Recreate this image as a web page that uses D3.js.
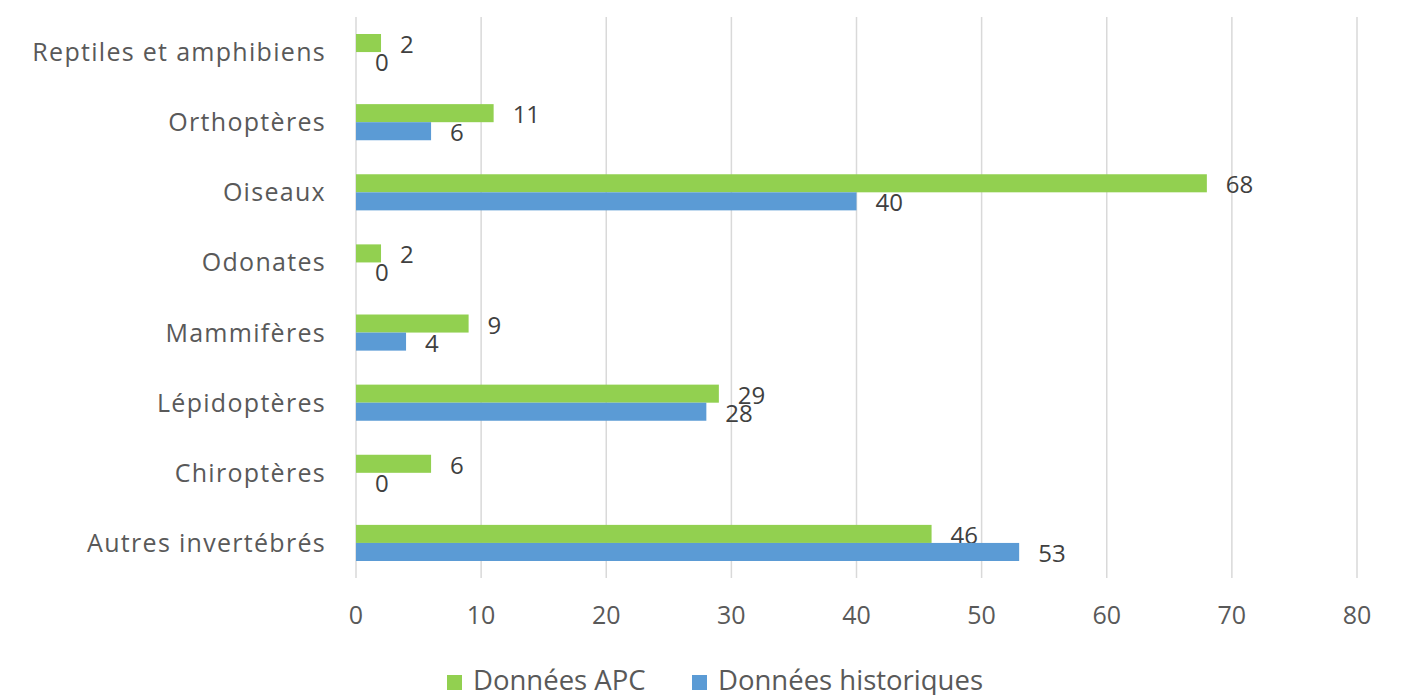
<!DOCTYPE html>
<html>
<head>
<meta charset="utf-8">
<script src="https://cdn.jsdelivr.net/npm/d3@7"></script>
<style>
  body { margin: 0; background: #fff; }
  text { font-family: "Open Sans", sans-serif; fill: #595959; }
</style>
</head>
<body>
<svg id="chart" width="1406" height="695"></svg>
<script>
var categories = ["Reptiles et amphibiens", "Orthoptères", "Oiseaux", "Odonates",
                  "Mammifères", "Lépidoptères", "Chiroptères", "Autres invertébrés"]
var apc = [2, 11, 68, 2, 9, 29, 6, 46]
var historiques = [0, 6, 40, 0, 4, 28, 0, 53]
var xTicks = [0, 10, 20, 30, 40, 50, 60, 70, 80]
var seriesNames = ["Données APC", "Données historiques"]
var colors = ["#92d050", "#5b9bd5"]

var svg = d3.select("#chart")
var plotLeft = 356, plotRight = 1357, plotTop = 17, plotBottom = 578

var x = d3.scaleLinear().domain([0, 80]).range([plotLeft, plotRight])
var y = d3.scaleBand().domain(categories).range([plotTop, plotBottom]).paddingInner(0.485).paddingOuter(0.2425)
var sub = d3.scaleBand().domain([0, 1]).range([0, y.bandwidth()])

// gridlines
svg.append("g").selectAll("line").data(xTicks).enter().append("line")
   .attr("x1", function (d) { return x(d) }).attr("x2", function (d) { return x(d) })
   .attr("y1", plotTop).attr("y2", plotBottom)
   .attr("stroke", "#d9d9d9").attr("stroke-width", 1.5)

// tick labels
svg.append("g").selectAll("text").data(xTicks).enter().append("text")
   .attr("x", function (d) { return x(d) }).attr("y", 624)
   .attr("text-anchor", "middle").style("font-size", "25px")
   .text(function (d) { return d })

// category labels
svg.append("g").selectAll("text").data(categories).enter().append("text")
   .attr("x", 326).attr("y", function (d) { return y(d) + y.bandwidth() / 2 + 9 })
   .attr("text-anchor", "end").style("font-size", "25px").style("letter-spacing", "1.3px")
   .text(function (d) { return d })

var series = [apc, historiques]
series.forEach(function (vals, s) {
  var g = svg.append("g")
  g.selectAll("rect").data(vals).enter().append("rect")
   .attr("x", x(0))
   .attr("y", function (d, i) { return y(categories[i]) + sub(s) })
   .attr("width", function (d) { return x(d) - x(0) })
   .attr("height", sub.bandwidth())
   .attr("fill", colors[s])
  g.selectAll("text").data(vals).enter().append("text")
   .attr("x", function (d) { return x(d) + 19 })
   .attr("y", function (d, i) { return y(categories[i]) + sub(s) + sub.bandwidth() / 2 + 10 })
   .style("font-size", "24px").style("fill", "#404040")
   .text(function (d) { return d })
})

// legend
var legendX = [447, 692]
seriesNames.forEach(function (name, s) {
  svg.append("rect").attr("x", legendX[s]).attr("y", 675)
     .attr("width", 15).attr("height", 15).attr("fill", colors[s])
  svg.append("text").attr("x", legendX[s] + 26).attr("y", 690)
     .style("font-size", "27.5px").text(name)
})
</script>
</body>
</html>
